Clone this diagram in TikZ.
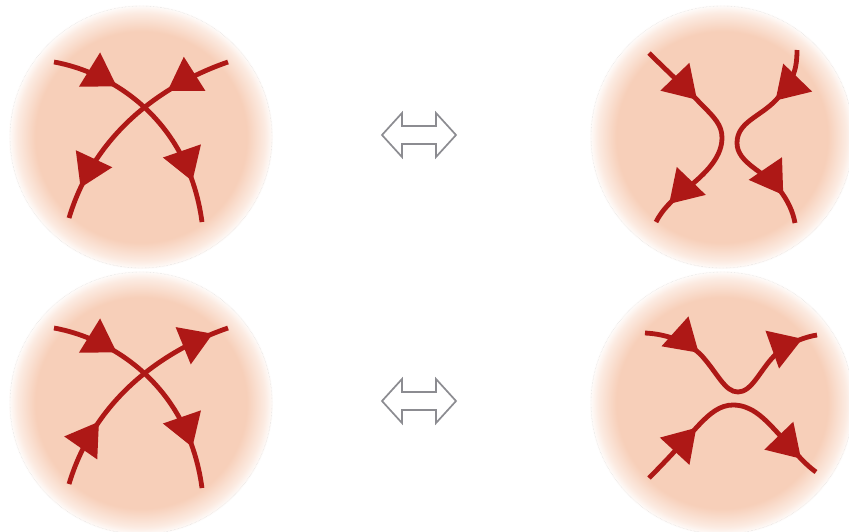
\documentclass[tikz,border=0pt]{standalone}
\usetikzlibrary{arrows.meta,decorations.markings}

\definecolor{peach}{RGB}{247,207,185}
\definecolor{strand}{RGB}{174,24,22}
\definecolor{swapgray}{RGB}{140,140,145}

% soft-edged disc: flat colour, fading out over the outer sixth of the radius
\pgfdeclareradialshading{blob}{\pgfpoint{0bp}{0bp}}{%
  color(0bp)=(peach); color(20bp)=(peach);
  color(23.5bp)=(peach!42!white); color(25bp)=(peach!5!white);
  color(50bp)=(white)}

\tikzset{
  disk/.style={shading=blob},
  rim/.style={draw=gray!30, densely dotted, line width=0.4pt},
  strandline/.style={draw=strand, line width=4.8pt},
  bigtri/.tip={Triangle[length=32pt,width=39pt,color=strand]},
  arrowsat/.style 2 args={postaction={decorate}, decoration={markings,
      mark=at position #1 with {\arrow{bigtri}},
      mark=at position #2 with {\arrow{bigtri}}}},
  swap/.style={draw=swapgray, line width=1.7pt, line join=miter, fill=white},
}

\begin{document}
\begin{tikzpicture}[x=1pt,y=-1pt]
  \clip (0,0) rectangle (849,531);
  \fill[white] (0,0) rectangle (849,531);

  % the four discs
  \foreach \cx/\cy [count=\i] in {141/137, 722/137, 141/403, 722/403}{
    \coordinate (c\i) at (\cx,\cy);
    \shade[disk] (c\i) circle[radius=132pt];
    \draw[rim] (c\i) circle[radius=131pt];
  }

  % ---- top left: crossing, both strands pointing down
  \coordinate (a1) at (54,62);   \coordinate (a2) at (202,222);
  \coordinate (b1) at (228,62);  \coordinate (b2) at (69,218);
  \draw[strandline, arrowsat={0.29}{0.82}]
    (a1) .. controls (110,72) and (188,118) .. (a2);
  \draw[strandline, arrowsat={0.29}{0.86}]
    (b1) .. controls (190,75) and (100,115) .. (b2);

  % ---- bottom left: crossing, one strand down, one strand up
  \coordinate (d1) at (54,328);  \coordinate (d2) at (202,488);
  \coordinate (e1) at (69,484);  \coordinate (e2) at (228,328);
  \draw[strandline, arrowsat={0.29}{0.82}]
    (d1) .. controls (110,338) and (188,384) .. (d2);
  \draw[strandline, arrowsat={0.30}{0.93}]
    (e1) .. controls (100,381) and (190,341) .. (e2);

  % ---- top right: two strands bending apart sideways
  \coordinate (f1) at (649,53);  \coordinate (f2) at (656,222);
  \coordinate (g1) at (797,50);  \coordinate (g2) at (795,223);
  \draw[strandline, arrowsat={0.30}{0.90}]
    (f1) .. controls (670,74) and (690,92) .. (700,103)
         .. controls (715,118) and (722,125) .. (722,138)
         .. controls (722,160) and (700,178) .. (685,190)
         .. controls (672,200) and (662,210) .. (f2);
  \draw[strandline, arrowsat={0.26}{0.86}]
    (g1) .. controls (797,72) and (792,82) .. (776,100)
         .. controls (760,117) and (737,122) .. (737,143)
         .. controls (737,163) and (765,172) .. (778,188)
         .. controls (788,200) and (793,212) .. (g2);

  % ---- bottom right: two strands bending apart up and down
  \coordinate (h1) at (645,333); \coordinate (h2) at (817,335);
  \coordinate (k1) at (649,478); \coordinate (k2) at (816,472);
  \draw[strandline, arrowsat={0.27}{0.93}]
    (h1) .. controls (668,334) and (690,343) .. (702,356)
         .. controls (718,374) and (725,392) .. (738,392)
         .. controls (752,392) and (760,370) .. (775,355)
         .. controls (790,342) and (805,337) .. (h2);
  \draw[strandline, arrowsat={0.31}{0.91}]
    (k1) .. controls (668,459) and (685,440) .. (697,427)
         .. controls (710,413) and (720,405) .. (733,405)
         .. controls (750,405) and (762,416) .. (775,430)
         .. controls (790,446) and (803,463) .. (k2);

  % ---- hollow double arrows between the pairs
  \foreach \my [count=\j] in {135,401}{
    \coordinate (s\j) at (419,\my);
    \draw[swap, shift={(s\j)}]
      (-37,0) -- (-17,-22) -- (-17,-9) -- (17,-9) -- (17,-22) -- (37,0)
      -- (17,22) -- (17,9) -- (-17,9) -- (-17,22) -- cycle;
  }
\end{tikzpicture}
\end{document}
